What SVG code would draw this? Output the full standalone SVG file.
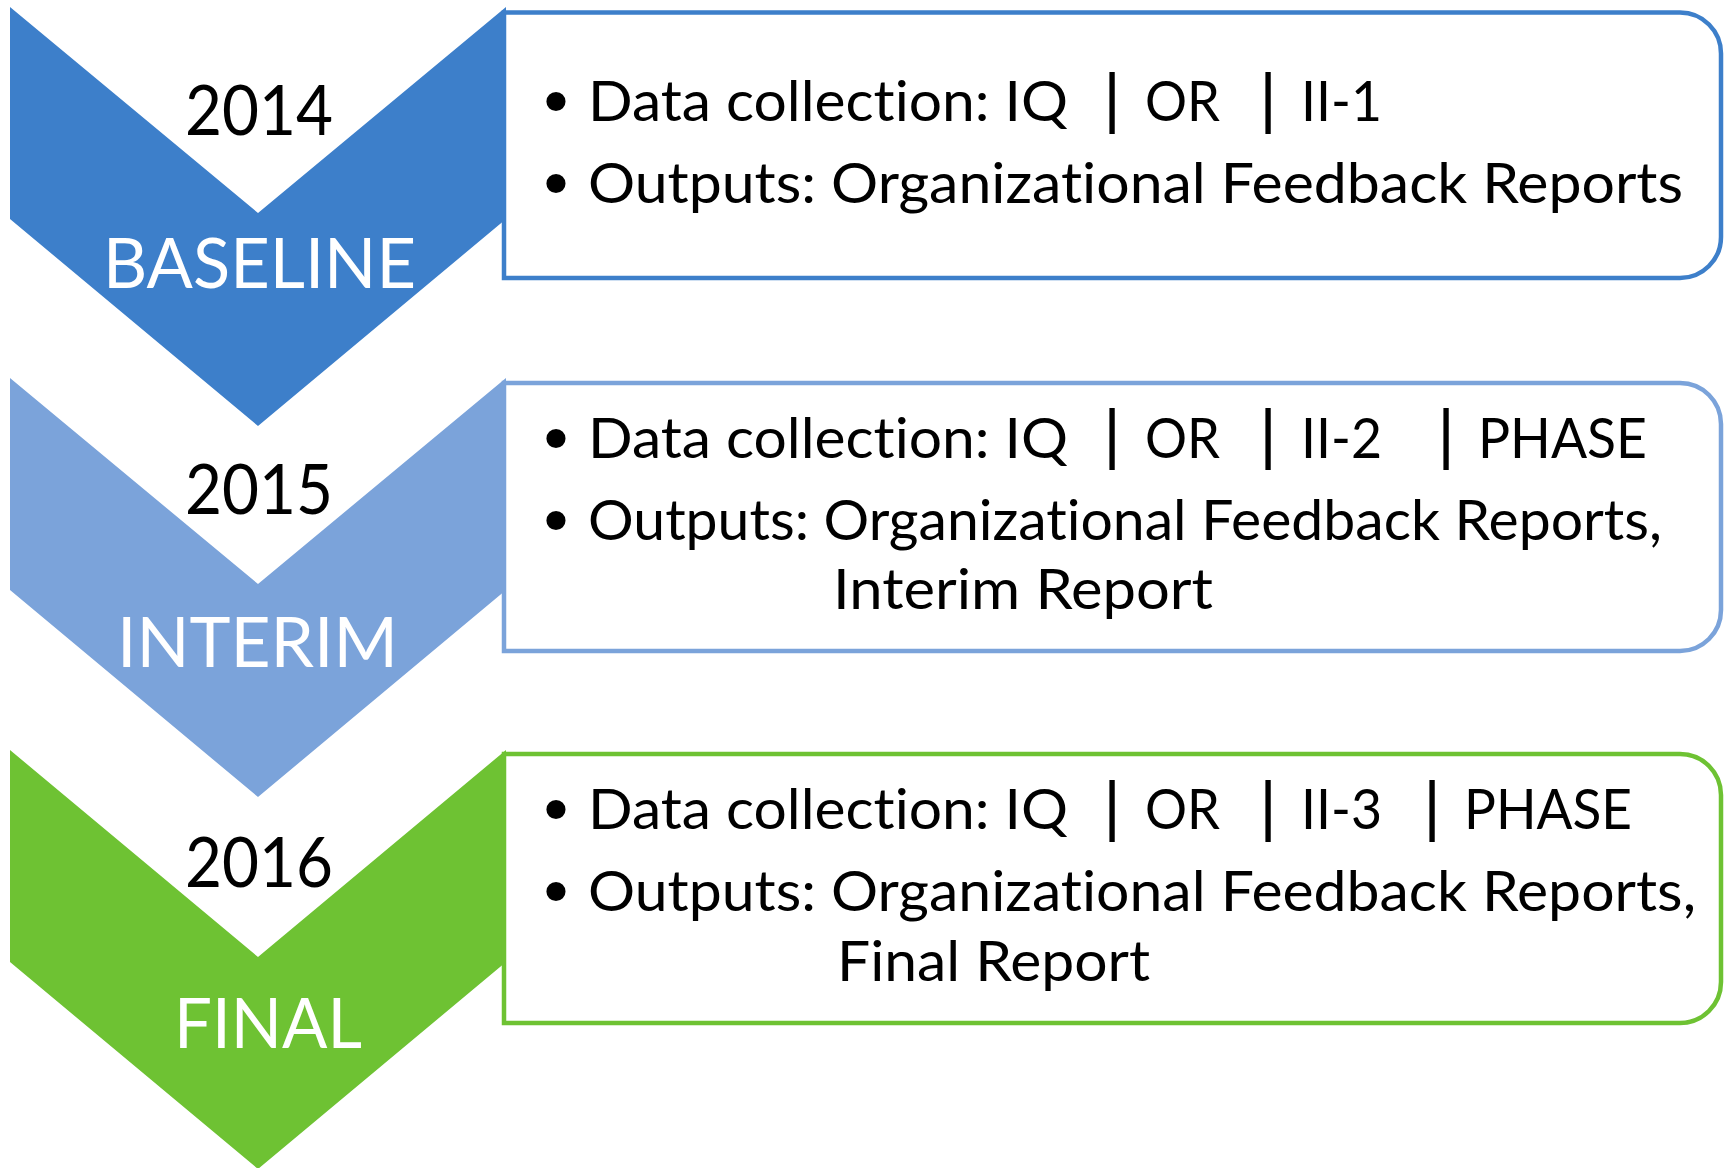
<svg xmlns="http://www.w3.org/2000/svg" width="1727" height="1168" viewBox="0 0 1727 1168">
<style>
text{font-variant-ligatures:none;font-feature-settings:"liga" 0,"dlig" 0}
.yr{font-family:Lato,"Liberation Sans",sans-serif;font-size:70px;fill:#000}
.ph{font-family:Lato,"Liberation Sans",sans-serif;font-size:70px;fill:#fff}
.t{font-family:Lato,"Liberation Sans",sans-serif;font-size:56px;fill:#000}
.bar{font-family:"Liberation Sans",sans-serif;font-size:66px;fill:#000;text-anchor:middle}
.bul{font-family:"DejaVu Sans",sans-serif;font-size:66px;fill:#000;text-anchor:middle}
.box{fill:#fff;stroke-width:4.5}
.c1{fill:#3D7FCA}.c2{fill:#7BA3DA}.c3{fill:#6EC233}
.s1{stroke:#3D7FCA}.s2{stroke:#7BA3DA}.s3{stroke:#6EC233}
</style>
<rect width="1727" height="1168" fill="#fff"/>
<g id="baseline-chevron">
<polygon class="c1" points="10,7 258,213 506,7 506,219 258,426 10,219"/>
<text class="yr" x="185" y="135" textLength="148" lengthAdjust="spacingAndGlyphs">2014</text>
<text class="ph" x="103" y="288" textLength="313" lengthAdjust="spacingAndGlyphs">BASELINE</text>
</g>
<g id="interim-chevron">
<polygon class="c2" points="10,378 258,584 506,378 506,590 258,797 10,590"/>
<text class="yr" x="185" y="514" textLength="148" lengthAdjust="spacingAndGlyphs">2015</text>
<text class="ph" x="117" y="667" textLength="281" lengthAdjust="spacingAndGlyphs">INTERIM</text>
</g>
<g id="final-chevron">
<polygon class="c3" points="10,750 258,957 506,750 506,962 258,1169 10,962"/>
<text class="yr" x="185" y="887" textLength="148" lengthAdjust="spacingAndGlyphs">2016</text>
<text class="ph" x="174" y="1048" textLength="188" lengthAdjust="spacingAndGlyphs">FINAL</text>
</g>
<g id="baseline-box">
<path class="box s1" d="M504,12.5 H1680 A41,41 0 0 1 1721,53.5 V237 A41,41 0 0 1 1680,278 H504 Z"/>
<text class="bul" x="556" y="126">•</text>
<text class="t" x="588" y="121" textLength="480" lengthAdjust="spacingAndGlyphs">Data collection: IQ</text>
<text class="bar" x="1112" y="120">|</text>
<text class="t" x="1145" y="121" textLength="75" lengthAdjust="spacingAndGlyphs">OR</text>
<text class="bar" x="1268" y="120">|</text>
<text class="t" x="1301" y="121" textLength="81" lengthAdjust="spacingAndGlyphs">II-1</text>
<text class="bul" x="556" y="208">•</text>
<text class="t" x="588" y="203" textLength="1095" lengthAdjust="spacingAndGlyphs">Outputs: Organizational Feedback Reports</text>
</g>
<g id="interim-box">
<path class="box s2" d="M504,383 H1680 A41,41 0 0 1 1721,424 V610 A41,41 0 0 1 1680,651 H504 Z"/>
<text class="bul" x="556" y="463">•</text>
<text class="t" x="588" y="458" textLength="480" lengthAdjust="spacingAndGlyphs">Data collection: IQ</text>
<text class="bar" x="1112" y="456">|</text>
<text class="t" x="1145" y="458" textLength="75" lengthAdjust="spacingAndGlyphs">OR</text>
<text class="bar" x="1268" y="456">|</text>
<text class="t" x="1301" y="458" textLength="81" lengthAdjust="spacingAndGlyphs">II-2</text>
<text class="bar" x="1446" y="456">|</text>
<text class="t" x="1478" y="458" textLength="169" lengthAdjust="spacingAndGlyphs">PHASE</text>
<text class="bul" x="556" y="545">•</text>
<text class="t" x="588" y="540" textLength="1074" lengthAdjust="spacingAndGlyphs">Outputs: Organizational Feedback Reports,</text>
<text class="t" x="833" y="609" textLength="380" lengthAdjust="spacingAndGlyphs">Interim Report</text>
</g>
<g id="final-box">
<path class="box s3" d="M504,754 H1680 A41,41 0 0 1 1721,795 V982 A41,41 0 0 1 1680,1023 H504 Z"/>
<text class="bul" x="556" y="834">•</text>
<text class="t" x="588" y="829" textLength="480" lengthAdjust="spacingAndGlyphs">Data collection: IQ</text>
<text class="bar" x="1112" y="828">|</text>
<text class="t" x="1145" y="829" textLength="75" lengthAdjust="spacingAndGlyphs">OR</text>
<text class="bar" x="1268" y="828">|</text>
<text class="t" x="1301" y="829" textLength="81" lengthAdjust="spacingAndGlyphs">II-3</text>
<text class="bar" x="1432" y="828">|</text>
<text class="t" x="1464" y="829" textLength="168" lengthAdjust="spacingAndGlyphs">PHASE</text>
<text class="bul" x="556" y="916">•</text>
<text class="t" x="588" y="911" textLength="1108" lengthAdjust="spacingAndGlyphs">Outputs: Organizational Feedback Reports,</text>
<text class="t" x="837" y="981" textLength="313" lengthAdjust="spacingAndGlyphs">Final Report</text>
</g>
<g id="connectors"></g>
</svg>
